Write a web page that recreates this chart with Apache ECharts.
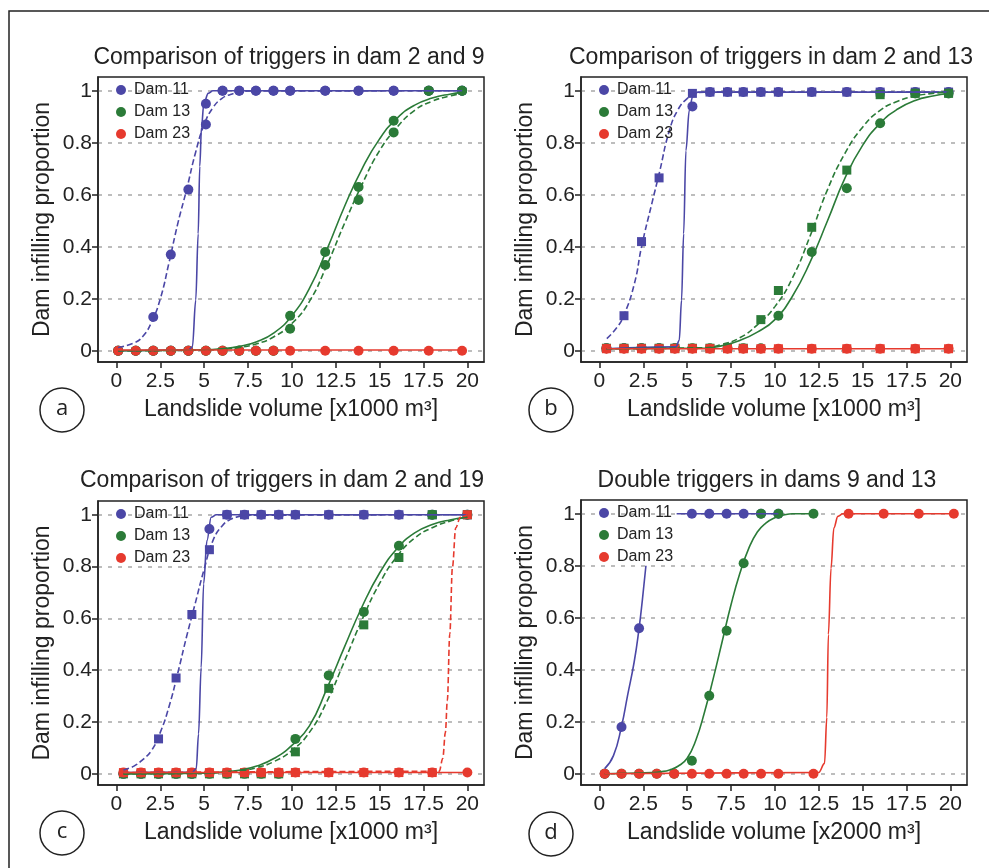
<!DOCTYPE html>
<html>
<head>
<meta charset="utf-8">
<script src="https://cdn.jsdelivr.net/npm/echarts@6/dist/echarts.min.js"></script>
<style>
  html, body { margin: 0; padding: 0; background: #fff; }
  #chart { width: 989px; height: 868px; }
</style>
</head>
<body>
<div id="chart"></div>
<script>
// tick labels
const xTicks = [0, 2.5, 5, 7.5, 10, 12.5, 15, 17.5, 20];
const yTicks = [0, 0.2, 0.4, 0.6, 0.8, 1];
const damNames = ['Dam 11', 'Dam 13', 'Dam 23'];

// ---- panel a : trigger in dam 2 (solid) vs dam 9 (dashed)
const aX = [0.1, 1.1, 2.1, 3.1, 4.1, 5.1, 6.05, 7, 7.95, 8.95, 9.9, 11.9, 13.8, 15.8, 17.8, 19.7];
const aDam11Solid = [0, 0, 0, 0, 0, 0.95, 1, 1, 1, 1, 1, 1, 1, 1, 1, 1];
const aDam11Dash = [null, null, 0.13, 0.37, 0.62, 0.87, 1, 1, 1, 1, 1, 1, 1, 1, 1, 1];
const aDam13Solid = [0, 0, 0, 0, 0, 0, 0, 0, 0, 0, 0.135, 0.38, 0.63, 0.885, 1, 1];
const aDam13Dash = [0, 0, 0, 0, 0, 0, 0, 0, 0, 0, 0.085, 0.33, 0.58, 0.84, 1, 1];
const aDam23 = [0, 0, 0, 0, 0, 0, 0, 0, 0, 0, 0, 0, 0, 0, 0, 0];
// fitted curves
const aC11sX = [0.1, 4.1, 4.33, 4.52, 4.66, 4.75, 4.85, 4.98, 5.23, 5.5, 19.7];
const aC11sY = [0, 0.003, 0.015, 0.195, 0.45, 0.71, 0.86, 0.95, 0.99, 1, 1];
const aC11dX = [0.1, 1, 1.5, 2, 2.5, 3, 3.5, 4, 4.5, 5, 5.5, 6, 6.5, 7, 7.6, 19.7];
const aC11dY = [0.013, 0.03, 0.055, 0.11, 0.2, 0.34, 0.49, 0.62, 0.76, 0.87, 0.935, 0.97, 0.986, 0.994, 0.999, 1];
const aC13sX = [0.1, 5, 6, 7, 8, 9, 10, 11, 12, 13, 14, 15, 16, 17, 18, 19, 19.7];
const aC13sY = [0, 0.004, 0.008, 0.017, 0.035, 0.07, 0.135, 0.24, 0.39, 0.555, 0.7, 0.815, 0.895, 0.945, 0.972, 0.987, 0.993];
const aC13dX = [0.1, 5, 6, 7, 8, 9, 10, 11, 12, 13, 14, 15, 16, 17, 18, 19, 19.7];
const aC13dY = [0, 0.003, 0.006, 0.013, 0.027, 0.055, 0.105, 0.19, 0.33, 0.49, 0.64, 0.77, 0.86, 0.925, 0.96, 0.98, 0.99];
const aC23X = [0.1, 19.7];
const aC23Y = [0.003, 0.003];

// ---- panel b : dam 2 (solid) vs dam 13 (dashed)
const bX = [0.4, 1.4, 2.4, 3.4, 4.3, 5.3, 6.3, 7.3, 8.2, 9.2, 10.2, 12.1, 14.1, 16, 18, 19.9];
const bDam11Solid = [0.01, 0.01, 0.01, 0.01, 0.01, 0.94, 0.995, 0.995, 0.995, 0.995, 0.995, 0.995, 0.995, 0.995, 0.995, 0.995];
const bDam11Dash = [null, 0.135, 0.42, 0.665, null, 0.99, 0.995, 0.995, 0.995, 0.995, 0.995, 0.995, 0.995, 0.995, 0.995, 0.995];
const bDam13Solid = [0.01, 0.01, 0.01, 0.01, 0.01, 0.01, 0.01, 0.01, 0.01, 0.01, 0.135, 0.38, 0.625, 0.875, 0.99, 0.99];
const bDam13Dash = [0.01, 0.01, 0.01, 0.01, 0.01, 0.01, 0.01, 0.01, 0.01, 0.12, 0.232, 0.475, 0.695, 0.985, 0.99, 0.99];
const bDam23 = [0.008, 0.008, 0.008, 0.008, 0.008, 0.008, 0.008, 0.008, 0.008, 0.008, 0.008, 0.008, 0.008, 0.008, 0.008, 0.008];
const bC11sX = [0.4, 4.36, 4.55, 4.68, 4.8, 4.93, 5.12, 5.31, 5.6, 19.9];
const bC11sY = [0.008, 0.015, 0.04, 0.195, 0.45, 0.77, 0.925, 0.977, 0.995, 0.995];
const bC11dX = [0.42, 1, 1.4, 2, 2.4, 3, 3.4, 4, 4.5, 5, 5.5, 6, 19.9];
const bC11dY = [0.047, 0.09, 0.137, 0.26, 0.4, 0.57, 0.68, 0.85, 0.93, 0.97, 0.99, 0.995, 0.995];
const bC13sX = [0.4, 6, 7, 8, 9, 10, 11, 12, 13, 14, 15, 16, 17, 18, 19, 19.9];
const bC13sY = [0.008, 0.01, 0.02, 0.04, 0.072, 0.12, 0.21, 0.34, 0.5, 0.665, 0.79, 0.875, 0.93, 0.963, 0.98, 0.99];
const bC13dX = [0.4, 6, 7, 8, 9, 10, 11, 12, 13, 14, 15, 16, 17, 18, 19, 19.9];
const bC13dY = [0.008, 0.012, 0.025, 0.05, 0.1, 0.17, 0.28, 0.44, 0.62, 0.76, 0.86, 0.925, 0.96, 0.98, 0.99, 0.995];
const bC23X = [0.4, 19.9];
const bC23Y = [0.008, 0.008];

// ---- panel c : dam 2 (solid) vs dam 19 (dashed)
const cX = [0.4, 1.4, 2.4, 3.4, 4.3, 5.3, 6.3, 7.3, 8.25, 9.25, 10.2, 12.1, 14.1, 16.1, 18, 20];
const cDam11Solid = [0, 0, 0, 0, 0, 0.945, 1, 1, 1, 1, 1, 1, 1, 1, 1, 1];
const cDam11Dash = [null, null, 0.135, 0.37, 0.615, 0.865, 1, 1, 1, 1, 1, 1, 1, 1, 1, 1];
const cDam13Solid = [0, 0, 0, 0, 0, 0, 0, 0, 0, 0, 0.135, 0.38, 0.625, 0.88, 1, 1];
const cDam13Dash = [0, 0, 0, 0, 0, 0, 0, 0, 0, 0, 0.085, 0.33, 0.575, 0.835, 1, 1];
const cDam23Solid = [0.005, 0.005, 0.005, 0.005, 0.005, 0.005, 0.005, 0.005, 0.005, 0.005, 0.005, 0.005, 0.005, 0.005, 0.005, 0.005];
const cDam23Dash = [0.005, 0.005, 0.005, 0.005, 0.005, 0.005, 0.005, 0.005, 0.005, 0.005, 0.005, 0.005, 0.005, 0.005, 0.005, 1];
const cC11sX = [0.4, 4.32, 4.55, 4.68, 4.83, 4.97, 5.16, 5.4, 5.69, 20];
const cC11sY = [0.005, 0.006, 0.02, 0.154, 0.41, 0.733, 0.9, 0.99, 1, 1];
const cC11dX = [0.4, 1, 1.5, 2, 2.5, 3, 3.5, 4, 4.5, 5, 5.5, 6, 6.5, 7, 7.5, 20];
const cC11dY = [0.015, 0.03, 0.055, 0.09, 0.16, 0.26, 0.39, 0.53, 0.66, 0.79, 0.9, 0.955, 0.982, 0.993, 0.998, 1];
const cC13sX = [0.4, 5, 6, 7, 8, 9, 10, 11, 12, 13, 14, 15, 16, 17, 18, 19, 20];
const cC13sY = [0, 0.003, 0.007, 0.014, 0.03, 0.06, 0.11, 0.185, 0.33, 0.49, 0.645, 0.775, 0.87, 0.93, 0.962, 0.98, 0.99];
const cC13dX = [0.4, 5, 6, 7, 8, 9, 10, 11, 12, 13, 14, 15, 16, 17, 18, 19, 20];
const cC13dY = [0, 0.002, 0.005, 0.011, 0.024, 0.048, 0.09, 0.16, 0.28, 0.435, 0.595, 0.735, 0.84, 0.91, 0.95, 0.975, 0.99];
const cC23sX = [0.4, 20];
const cC23sY = [0.005, 0.005];
const cC23dX = [0.4, 18.4, 18.6, 18.75, 18.86, 19, 19.15, 19.34, 19.6, 20];
const cC23dY = [0.005, 0.01, 0.06, 0.16, 0.283, 0.54, 0.797, 0.95, 0.99, 1];

// ---- panel d : double triggers in dams 9 and 13 (x in 2000 m3)
const dX = [0.3, 1.26, 2.26, 3.27, 4.26, 5.27, 6.26, 7.25, 8.22, 9.21, 10.2, 12.2, 14.2, 16.2, 18.2, 20.2];
const dDam11 = [0, 0.18, 0.56, null, null, 1, 1, 1, 1, 1, 1, null, null, null, null, null];
const dDam13 = [0, 0, 0, 0, 0, 0.05, 0.3, 0.55, 0.81, 1, 1, 1, null, null, null, null];
const dDam23 = [0, 0, 0, 0, 0, 0, 0, 0, 0, 0, 0, 0, 1, 1, 1, 1];
const dC11aX = [0.3, 0.8, 1.26, 1.6, 1.98, 2.26, 2.45, 2.65];
const dC11aY = [0.02, 0.07, 0.183, 0.3, 0.43, 0.56, 0.67, 0.8];
const dC11bX = [4.4, 10.2];
const dC11bY = [1, 1];
const dC13X = [0.3, 3, 3.5, 4, 4.5, 5, 5.5, 6, 6.5, 7, 7.5, 8, 8.5, 9, 9.5, 10, 10.5, 11, 12.2];
const dC13Y = [0, 0.005, 0.008, 0.015, 0.03, 0.06, 0.13, 0.24, 0.37, 0.51, 0.65, 0.77, 0.865, 0.93, 0.965, 0.985, 0.995, 1, 1];
const dC23X = [0.3, 12.5, 12.83, 12.96, 13.05, 13.2, 13.36, 13.59, 13.87, 20.2];
const dC23Y = [0, 0.005, 0.04, 0.217, 0.536, 0.79, 0.945, 0.99, 1, 1];

const BLUE = '#4b47a6';
const GREEN = '#2b7b38';
const RED = '#e63a2e';
const FONT = '"Liberation Sans", Arial, Helvetica, sans-serif';
const INK = '#222';

const panels = [
  { left: 98, top: 77, height: 285, title: 'Comparison of triggers in dam 2 and 9', tx: 289, ty: 58, xName: 'Landslide volume [x1000 m³]', tag: 'a', cx: 62, cy: 410 },
  { left: 581, top: 77, height: 285, title: 'Comparison of triggers in dam 2 and 13', tx: 771, ty: 58, xName: 'Landslide volume [x1000 m³]', tag: 'b', cx: 551, cy: 410 },
  { left: 98, top: 501, height: 284, title: 'Comparison of triggers in dam 2 and 19', tx: 282, ty: 481, xName: 'Landslide volume [x1000 m³]', tag: 'c', cx: 62, cy: 833 },
  { left: 581, top: 500, height: 285, title: 'Double triggers in dams 9 and 13', tx: 767, ty: 481, xName: 'Landslide volume [x2000 m³]', tag: 'd', cx: 551, cy: 834 }
];

function pairs(xs, ys) {
  return xs.map((x, i) => [x, ys[i]]).filter(p => p[1] !== null);
}

// steep curves keep x-monotone smoothing, gentle ones use plain smoothing
function curve(name, color, idx, xs, ys, dashed, steep) {
  return {
    type: 'line', name: name, xAxisIndex: idx, yAxisIndex: idx,
    data: pairs(xs, ys),
    smooth: steep ? 0.35 : 0.5,
    smoothMonotone: steep ? 'x' : null,
    showSymbol: false, silent: true,
    itemStyle: { color: color },
    lineStyle: { color: color, width: 1.6, type: dashed ? [6, 3] : 'solid' }
  };
}

function marks(name, color, idx, xs, ys, symbol) {
  return {
    type: 'scatter', name: name, xAxisIndex: idx, yAxisIndex: idx,
    data: pairs(xs, ys), symbol: symbol, symbolSize: symbol === 'rect' ? 9 : 10,
    itemStyle: { color: color, opacity: 1 }, silent: true
  };
}

const series = [
  // a
  curve('Dam 11', BLUE, 0, aC11sX, aC11sY, false, true),
  curve('Dam 11', BLUE, 0, aC11dX, aC11dY, true, false),
  marks('Dam 11', BLUE, 0, aX, aDam11Solid, 'circle'),
  marks('Dam 11', BLUE, 0, aX, aDam11Dash, 'circle'),
  curve('Dam 13', GREEN, 0, aC13sX, aC13sY, false, false),
  curve('Dam 13', GREEN, 0, aC13dX, aC13dY, true, false),
  marks('Dam 13', GREEN, 0, aX, aDam13Solid, 'circle'),
  marks('Dam 13', GREEN, 0, aX, aDam13Dash, 'circle'),
  curve('Dam 23', RED, 0, aC23X, aC23Y, false, true),
  marks('Dam 23', RED, 0, aX, aDam23, 'circle'),
  // b
  curve('Dam 11', BLUE, 1, bC11sX, bC11sY, false, true),
  curve('Dam 11', BLUE, 1, bC11dX, bC11dY, true, false),
  marks('Dam 11', BLUE, 1, bX, bDam11Solid, 'circle'),
  marks('Dam 11', BLUE, 1, bX, bDam11Dash, 'rect'),
  curve('Dam 13', GREEN, 1, bC13sX, bC13sY, false, false),
  curve('Dam 13', GREEN, 1, bC13dX, bC13dY, true, false),
  marks('Dam 13', GREEN, 1, bX, bDam13Solid, 'circle'),
  marks('Dam 13', GREEN, 1, bX, bDam13Dash, 'rect'),
  curve('Dam 23', RED, 1, bC23X, bC23Y, false, true),
  marks('Dam 23', RED, 1, bX, bDam23, 'circle'),
  marks('Dam 23', RED, 1, bX, bDam23, 'rect'),
  // c
  curve('Dam 11', BLUE, 2, cC11sX, cC11sY, false, true),
  curve('Dam 11', BLUE, 2, cC11dX, cC11dY, true, false),
  marks('Dam 11', BLUE, 2, cX, cDam11Solid, 'circle'),
  marks('Dam 11', BLUE, 2, cX, cDam11Dash, 'rect'),
  curve('Dam 13', GREEN, 2, cC13sX, cC13sY, false, false),
  curve('Dam 13', GREEN, 2, cC13dX, cC13dY, true, false),
  marks('Dam 13', GREEN, 2, cX, cDam13Solid, 'circle'),
  marks('Dam 13', GREEN, 2, cX, cDam13Dash, 'rect'),
  curve('Dam 23', RED, 2, cC23sX, cC23sY, false, true),
  curve('Dam 23', RED, 2, cC23dX, cC23dY, true, true),
  marks('Dam 23', RED, 2, cX, cDam23Solid, 'circle'),
  marks('Dam 23', RED, 2, cX, cDam23Dash, 'rect'),
  // d
  curve('Dam 11', BLUE, 3, dC11aX, dC11aY, false, false),
  curve('Dam 11', BLUE, 3, dC11bX, dC11bY, false, true),
  marks('Dam 11', BLUE, 3, dX, dDam11, 'circle'),
  curve('Dam 13', GREEN, 3, dC13X, dC13Y, false, false),
  marks('Dam 13', GREEN, 3, dX, dDam13, 'circle'),
  curve('Dam 23', RED, 3, dC23X, dC23Y, false, true),
  marks('Dam 23', RED, 3, dX, dDam23, 'circle')
];

const fmt = v => String(+(+v).toFixed(2));

const option = {
  animation: false,
  backgroundColor: '#fff',
  textStyle: { fontFamily: FONT },
  grid: panels.map(p => ({
    left: p.left, top: p.top, width: 386, height: p.height,
    show: true, borderColor: INK, borderWidth: 1.5, backgroundColor: 'transparent'
  })),
  xAxis: panels.map((p, i) => ({
    type: 'value', gridIndex: i, min: -1.05, max: 20.95,
    name: p.xName, nameLocation: 'middle', nameGap: 36,
    nameTextStyle: { fontSize: 23, color: INK, fontFamily: FONT },
    axisLine: { show: true, onZero: false, lineStyle: { color: INK, width: 1.5 } },
    axisTick: { show: true, inside: false, length: 6, customValues: xTicks, lineStyle: { color: INK, width: 1.5 } },
    axisLabel: { customValues: xTicks, formatter: fmt, fontSize: 21, color: INK, margin: 9, fontFamily: FONT },
    splitLine: { show: false }
  })),
  yAxis: panels.map((p, i) => ({
    type: 'value', gridIndex: i, min: -0.043, max: 1.053,
    name: 'Dam infilling proportion', nameLocation: 'middle', nameGap: 44,
    nameTextStyle: { fontSize: 23, color: INK, fontFamily: FONT },
    axisLine: { show: true, onZero: false, lineStyle: { color: INK, width: 1.5 } },
    axisTick: { show: true, inside: false, length: 6, customValues: yTicks, lineStyle: { color: INK, width: 1.5 } },
    axisLabel: { customValues: yTicks, formatter: fmt, fontSize: 21, color: INK, margin: 6, fontFamily: FONT },
    splitLine: { show: true, lineStyle: { color: '#a8a8a8', width: 1.5, type: [4, 6] } }
  })),
  legend: panels.map((p, i) => ({
    data: damNames, orient: 'vertical',
    left: p.left + 18, top: p.top + 5,
    icon: 'circle', itemWidth: 10, itemHeight: 10, itemGap: 6, padding: 0,
    selectedMode: false,
    textStyle: { fontSize: 16, color: INK, fontFamily: FONT, padding: [0, 0, 0, 3], lineHeight: 16 }
  })),
  graphic: [
    { type: 'rect', shape: { x: 9, y: 11, width: 1000, height: 900 }, style: { fill: 'none', stroke: INK, lineWidth: 1.5 }, silent: true }
  ].concat(panels.map(p => ({
    type: 'text', x: p.tx, y: p.ty, silent: true,
    style: { text: p.title, fill: INK, font: '23px ' + FONT, textAlign: 'center', textVerticalAlign: 'middle' }
  }))).concat(panels.map(p => ({
    type: 'circle', shape: { cx: p.cx, cy: p.cy, r: 22 }, silent: true,
    style: { fill: 'none', stroke: INK, lineWidth: 1.5 }
  }))).concat(panels.map(p => ({
    type: 'text', x: p.cx, y: p.cy - 1, silent: true,
    style: { text: p.tag, fill: INK, font: '22px "Open Sans", sans-serif', textAlign: 'center', textVerticalAlign: 'middle' }
  }))),
  series: series
};

const chart = echarts.init(document.getElementById('chart'), null, { renderer: 'canvas' });
chart.setOption(option);
</script>
</body>
</html>
